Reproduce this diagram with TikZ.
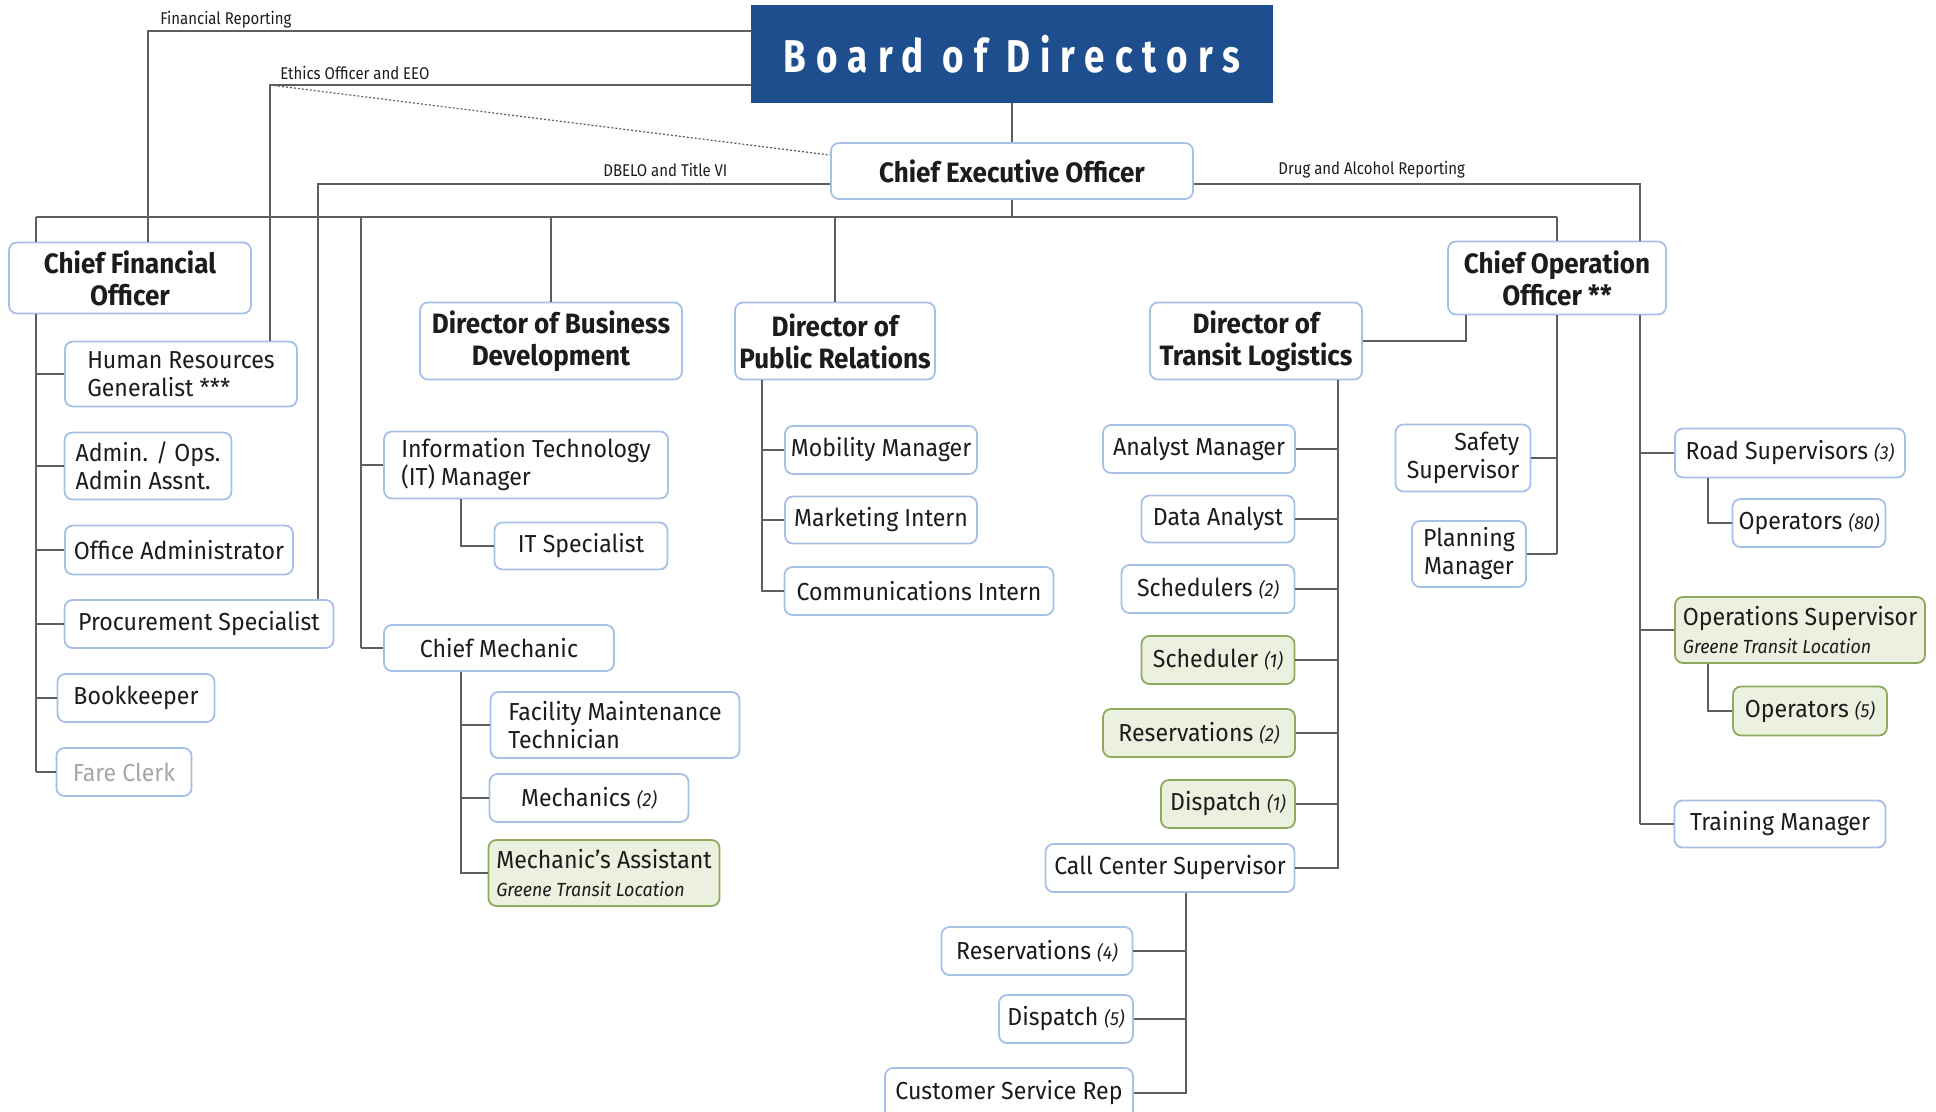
\documentclass[tikz,border=0pt]{standalone}
\usepackage{fontspec}
\setmainfont{Fira Sans}
\newfontfamily\postfont{Fira Sans}[FakeStretch=0.94]
\newfontfamily\headfont{Fira Sans}[FakeStretch=0.93]
\newfontfamily\boardfont{Fira Sans}[FakeStretch=0.8, LetterSpace=22]
\newfontfamily\notefont{Fira Sans}[FakeStretch=0.88]
\usepackage{tikz}
\definecolor{ink}{HTML}{1C1C1C}
\definecolor{edgeblue}{HTML}{A7C1E6}
\definecolor{edgegreen}{HTML}{8EAA5E}
\definecolor{leafgreen}{HTML}{EBF1DE}
\definecolor{boardblue}{HTML}{1F4E8F}
\definecolor{linegray}{HTML}{5E5E5E}
\definecolor{fadegray}{HTML}{A6A6A6}
\newcommand{\headcount}[1]{{\itshape\fontsize{9.5}{11}\selectfont(#1)}}
\newcommand{\greenesite}{{\itshape\fontsize{9.5}{11}\selectfont Greene Transit Location}}
\tikzset{
  postnode/.style = {align=center, inner sep=0pt, text=ink, font=\postfont\fontsize{12.3}{14}\selectfont},
  boxsize/.style 2 args = {minimum width=#1*0.5pt, minimum height=#2*0.5pt},
  PostNode/.style = {postnode, rectangle, rounded corners=4pt, draw = edgeblue, fill = white, line width=0.9pt},
  HeadNode/.style = {PostNode, font = \headfont\bfseries\fontsize{14}{16}\selectfont},
  GreenNode/.style = {postnode, rectangle, rounded corners=4pt, draw = edgegreen, fill = leafgreen, line width=0.9pt},
  BoardNode/.style = {postnode, rectangle, draw = boardblue, fill = boardblue, text = white, font = \boardfont\bfseries\fontsize{23}{26}\selectfont},
  NoteLabel/.style = {inner sep=0pt, anchor=west, text=ink, font=\notefont\fontsize{8.5}{10}\selectfont},
  Link/.style = {draw = linegray, line width=1pt}
}
\begin{document}
\begin{tikzpicture}[x=0.5pt, y=-0.5pt]
    \useasboundingbox (0,0) rectangle (1936,1112);
    \node [BoardNode, boxsize={521}{97}] (board) at (1012,54) {Board of Directors};
    \node [HeadNode, boxsize={362}{56}] (ceo) at (1012,171) {Chief Executive Officer};
    \node [HeadNode, boxsize={242}{71}] (cfo) at (130,278) {Chief Financial\\Officer};
    \node [PostNode, boxsize={232}{65}, align=left] (hr) at (181,374) {Human Resources\\Generalist ***};
    \node [PostNode, boxsize={167}{67}, align=left] (admin) at (148,466) {Admin. / Ops.\\Admin Assnt.};
    \node [PostNode, boxsize={228}{49}] (office) at (179,550) {Office Administrator};
    \node [PostNode, boxsize={269}{48}] (procure) at (199,624) {Procurement Specialist};
    \node [PostNode, boxsize={157}{48}] (bookkeeper) at (136,698) {Bookkeeper};
    \node [PostNode, boxsize={135}{48}, text=fadegray] (fare) at (124,772) {Fare Clerk};
    \node [HeadNode, boxsize={262}{77}] (dbd) at (551,341) {Director of Business\\Development};
    \node [HeadNode, boxsize={200}{77}] (dpr) at (835,341) {Director of\\Public Relations};
    \node [HeadNode, boxsize={212}{77}] (dtl) at (1256,341) {Director of\\Transit Logistics};
    \node [HeadNode, boxsize={218}{73}] (coo) at (1557,278) {Chief Operation\\Officer **};
    \node [PostNode, boxsize={284}{67}, align=left] (itm) at (526,465) {Information Technology\\(IT) Manager};
    \node [PostNode, boxsize={173}{47}] (its) at (581,546) {IT Specialist};
    \node [PostNode, boxsize={230}{46}] (cmech) at (499,648) {Chief Mechanic};
    \node [PostNode, boxsize={249}{66}, align=left] (fmt) at (615,725) {Facility Maintenance\\Technician};
    \node [PostNode, boxsize={199}{48}] (mechs) at (589,798) {Mechanics \headcount{2}};
    \node [GreenNode, boxsize={231}{66}, align=left] (massist) at (604,873) {Mechanic’s Assistant\\\greenesite};
    \node [PostNode, boxsize={192}{48}] (mob) at (881,450) {Mobility Manager};
    \node [PostNode, boxsize={192}{47}] (mkt) at (881,520) {Marketing Intern};
    \node [PostNode, boxsize={269}{48}] (comm) at (919,591) {Communications Intern};
    \node [PostNode, boxsize={192}{48}] (anm) at (1199,449) {Analyst Manager};
    \node [PostNode, boxsize={153}{47}] (data) at (1218,519) {Data Analyst};
    \node [PostNode, boxsize={173}{48}] (scheds) at (1208,589) {Schedulers \headcount{2}};
    \node [GreenNode, boxsize={153}{48}] (sched1) at (1218,660) {Scheduler \headcount{1}};
    \node [GreenNode, boxsize={192}{48}] (res2) at (1199,733) {Reservations \headcount{2}};
    \node [GreenNode, boxsize={134}{48}] (disp1) at (1228,804) {Dispatch \headcount{1}};
    \node [PostNode, boxsize={249}{48}] (ccs) at (1170,868) {Call Center Supervisor};
    \node [PostNode, boxsize={191}{48}] (res4) at (1037,951) {Reservations \headcount{4}};
    \node [PostNode, boxsize={134}{48}] (disp5) at (1066,1019) {Dispatch \headcount{5}};
    \node [PostNode, boxsize={248}{50}] (csr) at (1009,1093) {Customer Service Rep};
    \node [PostNode, boxsize={135}{67}, align=right] (safety) at (1463,458) {Safety\\Supervisor};
    \node [PostNode, boxsize={114}{66}] (plan) at (1469,554) {Planning\\Manager};
    \node [PostNode, boxsize={230}{49}] (road) at (1790,453) {Road Supervisors \headcount{3}};
    \node [PostNode, boxsize={153}{48}] (op80) at (1809,523) {Operators \headcount{80}};
    \node [GreenNode, boxsize={250}{66}, align=left] (opsup) at (1800,630) {Operations Supervisor\\\greenesite};
    \node [GreenNode, boxsize={154}{49}] (op5) at (1810,711) {Operators \headcount{5}};
    \node [PostNode, boxsize={211}{47}] (train) at (1780,824) {Training Manager};

    \node [NoteLabel] (finlbl) at (160,20) {Financial Reporting};
    \node [NoteLabel] (ethlbl) at (280,73) {Ethics Officer and EEO};
    \node [NoteLabel] (dbelbl) at (603,170) {DBELO and Title VI};
    \node [NoteLabel] (druglbl) at (1278,170) {Drug and Alcohol Reporting};

    \coordinate (fin) at (148,31);
    \coordinate (eth) at (270,85);
    \coordinate (dbe) at (318,184);
    \coordinate (drug) at (1640,184);
    \coordinate (busL) at (36,217);
    \coordinate (busR) at (1557,217);
    \coordinate (busM) at (361,217);
    \coordinate (mechx) at (461,0);
    \coordinate (prx) at (762,0);
    \coordinate (tlx) at (1338,0);
    \coordinate (ccx) at (1186,0);
    \coordinate (opx) at (1708,0);
    \coordinate (cooL) at (1466,0);

    \draw [Link] (board.south) -- (ceo.north);
    \draw [Link] (ceo.south) -- (ceo.south |- busL);
    \draw [Link] (busL) -- (busR);
    \draw [Link] (busL) -- (busL |- cfo.north);
    \draw [Link] (busM) -- (busM |- cmech.west);
    \draw [Link] (dbd.north) -- (dbd.north |- busL);
    \draw [Link] (dpr.north) -- (dpr.north |- busL);
    \draw [Link] (busR) -- (coo.north);

    \draw [Link] (board.west |- fin) -- (fin) -- (fin |- cfo.north);
    \draw [Link] (board.west |- eth) -- (eth) -- (eth |- hr.north);
    \draw [Link, densely dotted, line width=0.6pt] (eth) -- (ceo.175);
    \draw [Link] (ceo.west |- dbe) -- (dbe) -- (dbe |- procure.north);
    \draw [Link] (ceo.east |- drug) -- (drug) -- (drug |- coo.north);

    \draw [Link] (busL |- cfo.south) -- (busL |- fare.west);
    \foreach \n in {hr, admin, office, procure, bookkeeper, fare}
        \draw [Link] (busL |- \n.west) -- (\n.west);
    \foreach \n in {itm, cmech}
        \draw [Link] (busM |- \n.west) -- (\n.west);
    \draw [Link] (itm.south -| mechx) |- (its.west);
    \draw [Link] (cmech.south -| mechx) |- (massist.west);
    \foreach \n in {fmt, mechs}
        \draw [Link] (mechx |- \n.west) -- (\n.west);
    \draw [Link] (dpr.south -| prx) |- (comm.west);
    \foreach \n in {mob, mkt}
        \draw [Link] (prx |- \n.west) -- (\n.west);
    \draw [Link] (dtl.south -| tlx) |- (ccs.east);
    \foreach \n in {anm, data, scheds, sched1, res2, disp1}
        \draw [Link] (\n.east) -- (tlx |- \n.east);
    \draw [Link] (ccs.south -| ccx) |- (csr.east);
    \foreach \n in {res4, disp5}
        \draw [Link] (\n.east) -- (ccx |- \n.east);
    \draw [Link] (dtl.east) -| (cooL |- coo.south);
    \draw [Link] (coo.south) -- (coo.south |- plan.east);
    \foreach \n in {safety, plan}
        \draw [Link] (\n.east) -- (coo.south |- \n.east);
    \draw [Link] (drug |- coo.south) -- (drug |- train.west);
    \foreach \n in {road, opsup, train}
        \draw [Link] (drug |- \n.west) -- (\n.west);
    \draw [Link] (road.south -| opx) |- (op80.west);
    \draw [Link] (opsup.south -| opx) |- (op5.west);
\end{tikzpicture}
\end{document}
